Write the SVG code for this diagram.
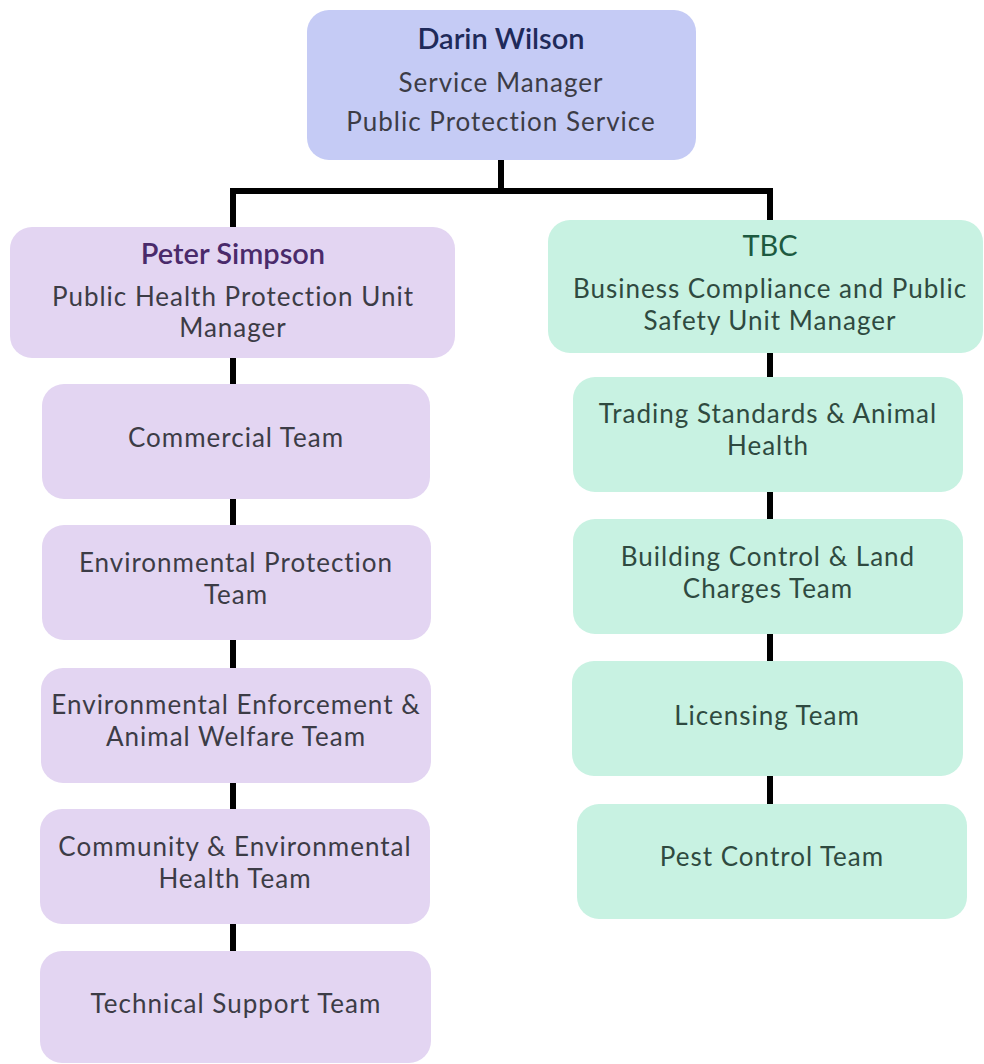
<svg xmlns="http://www.w3.org/2000/svg" width="984" height="1064" viewBox="0 0 984 1064">
<style>
.t{font-family:Lato,"Open Sans","Liberation Sans",sans-serif;font-size:26px;letter-spacing:1px;text-anchor:middle;dominant-baseline:central;fill:#3c3c46}
.g{fill:#2f4a40}
.h{font-size:29px;font-weight:600;letter-spacing:0}
.top{fill:#c5cbf5}
.pur{fill:#e3d5f2}
.grn{fill:#c8f2e2}
.c{stroke:#000;stroke-width:6;fill:none}
</style>
<rect width="984" height="1064" fill="#fff"/>
<g id="connectors">
<path class="c" d="M501,160 V191 M233,191 H770 M233,188 V227 M770,188 V220"/>
<path class="c" d="M233,358 V384 M233,499 V525 M233,640 V668 M233,783 V809 M233,924 V951"/>
<path class="c" d="M770,353 V377 M770,492 V519 M770,634 V661 M770,776 V804"/>
</g>
<g id="darin">
<rect class="top" x="307" y="10" width="389" height="150" rx="22"/>
<text class="t h" x="501" y="37" style="fill:#1f2a5a">Darin Wilson</text>
<text class="t" x="501" y="82">Service Manager</text>
<text class="t" x="501" y="121">Public Protection Service</text>
</g>
<g id="peter">
<rect class="pur" x="10" y="227" width="445" height="131" rx="22"/>
<text class="t h" x="233" y="252" style="fill:#4a2a6b">Peter Simpson</text>
<text class="t" x="233" y="295.5">Public Health Protection Unit</text>
<text class="t" x="233" y="327">Manager</text>
</g>
<g id="tbc">
<rect class="grn" x="548" y="220" width="435" height="133" rx="22"/>
<text class="t h" x="770" y="244" style="fill:#1d5a40;font-weight:400">TBC</text>
<text class="t g" x="770" y="288">Business Compliance and Public</text>
<text class="t g" x="770" y="319.5">Safety Unit Manager</text>
</g>
<g id="commercial">
<rect class="pur" x="42" y="384" width="388" height="115" rx="22"/>
<text class="t" x="236" y="437">Commercial Team</text>
</g>
<g id="envprot">
<rect class="pur" x="42" y="525" width="389" height="115" rx="22"/>
<text class="t" x="236" y="562">Environmental Protection</text>
<text class="t" x="236" y="593.5">Team</text>
</g>
<g id="envenf">
<rect class="pur" x="41" y="668" width="390" height="115" rx="22"/>
<text class="t" x="236" y="704">Environmental Enforcement &amp;</text>
<text class="t" x="236" y="735.5">Animal Welfare Team</text>
</g>
<g id="community">
<rect class="pur" x="40" y="809" width="390" height="115" rx="22"/>
<text class="t" x="235" y="846">Community &amp; Environmental</text>
<text class="t" x="235" y="877.5">Health Team</text>
</g>
<g id="technical">
<rect class="pur" x="40" y="951" width="391" height="112" rx="22"/>
<text class="t" x="236" y="1003">Technical Support Team</text>
</g>
<g id="trading">
<rect class="grn" x="573" y="377" width="390" height="115" rx="22"/>
<text class="t g" x="768" y="413">Trading Standards &amp; Animal</text>
<text class="t g" x="768" y="444.5">Health</text>
</g>
<g id="building">
<rect class="grn" x="573" y="519" width="390" height="115" rx="22"/>
<text class="t g" x="768" y="556">Building Control &amp; Land</text>
<text class="t g" x="768" y="587.5">Charges Team</text>
</g>
<g id="licensing">
<rect class="grn" x="572" y="661" width="391" height="115" rx="22"/>
<text class="t g" x="767" y="715">Licensing Team</text>
</g>
<g id="pest">
<rect class="grn" x="577" y="804" width="390" height="115" rx="22"/>
<text class="t g" x="772" y="856">Pest Control Team</text>
</g>
</svg>
